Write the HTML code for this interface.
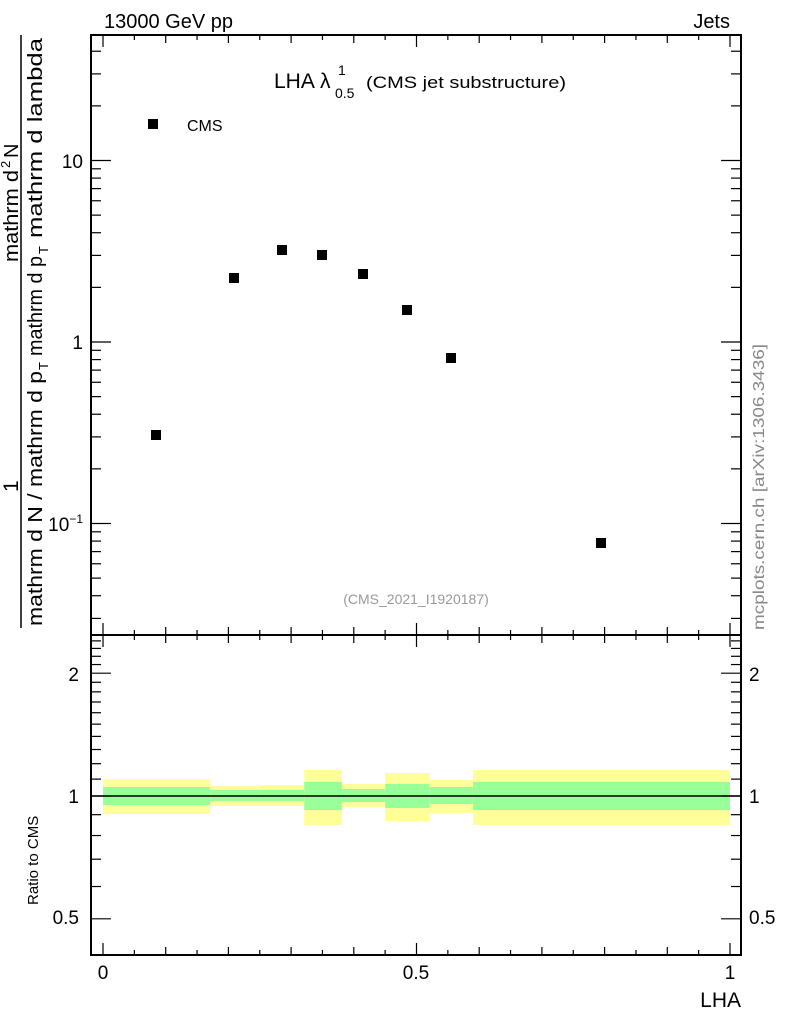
<!DOCTYPE html>
<html><head><meta charset="utf-8"><style>body{margin:0;background:#fff}svg{display:block}text{font-family:"Liberation Sans",sans-serif}</style></head>
<body>
<svg id="s" width="786" height="1024" viewBox="0 0 786 1024" xmlns="http://www.w3.org/2000/svg">
<g id="bands"></g>
<line x1="91" y1="796" x2="741" y2="796" stroke="#000" stroke-width="1.5"/>
<g id="ticks" stroke="#000" stroke-width="1.2"></g>
<rect x="91" y="35" width="650" height="600" fill="none" stroke="#000" stroke-width="2"/>
<rect x="91" y="635" width="650" height="320" fill="none" stroke="#000" stroke-width="2"/>
<g id="pts"></g>
<rect x="148" y="119" width="10" height="10" fill="#000"/>
<text x="187" y="131" font-size="16">CMS</text>
<text x="104" y="28" font-size="20">13000 GeV pp</text>
<text x="730" y="28" font-size="20" text-anchor="end">Jets</text>
<text x="274" y="88" font-size="21">LHA</text>
<text x="320" y="88" font-size="21">λ</text>
<text x="338" y="75" font-size="14">1</text>
<text x="335" y="98" font-size="14">0.5</text>
<text x="366" y="88" font-size="17" textLength="200" lengthAdjust="spacingAndGlyphs">(CMS jet substructure)</text>
<text x="416" y="604" font-size="14" fill="#999" text-anchor="middle">(CMS_2021_I1920187)</text>
<text transform="translate(764,630) rotate(-90)" font-size="16" fill="#888" textLength="286" lengthAdjust="spacingAndGlyphs">mcplots.cern.ch [arXiv:1306.3436]</text>
<text x="741" y="1007" font-size="21" text-anchor="end">LHA</text>
<text transform="translate(38,905) rotate(-90)" font-size="15">Ratio to CMS</text>
<g font-size="19" text-anchor="end">
<text x="83" y="168">10</text><text x="83" y="349">1</text>
<text x="83" y="531">10<tspan font-size="12" dy="-8">−1</tspan></text>
<text x="79" y="681">2</text><text x="79" y="803">1</text><text x="79" y="924">0.5</text>
</g>
<g font-size="19">
<text x="749" y="681">2</text><text x="749" y="803">1</text><text x="749" y="924">0.5</text>
</g>
<g font-size="19" text-anchor="middle">
<text x="103" y="979">0</text><text x="416" y="979">0.5</text><text x="730" y="979">1</text>
</g>
<line x1="21" y1="628" x2="21" y2="35" stroke="#000" stroke-width="1.5"/>
<text transform="translate(18,492) rotate(-90)" font-size="21">1</text>
<text transform="translate(42,626) rotate(-90)" font-size="20" textLength="255" lengthAdjust="spacingAndGlyphs">mathrm d N / mathrm d p</text>
<text transform="translate(48,370) rotate(-90)" font-size="13">T</text>
<text transform="translate(42,356) rotate(-90)" font-size="20" textLength="100" lengthAdjust="spacingAndGlyphs">mathrm d p</text>
<text transform="translate(48,254) rotate(-90)" font-size="13">T</text>
<text transform="translate(42,238) rotate(-90)" font-size="20" textLength="200" lengthAdjust="spacingAndGlyphs">mathrm d lambda</text>
<text transform="translate(18,262) rotate(-90)" font-size="20" textLength="92" lengthAdjust="spacingAndGlyphs">mathrm d</text>
<text transform="translate(10,168) rotate(-90)" font-size="13">2</text>
<text transform="translate(18,158) rotate(-90)" font-size="20">N</text>
</svg>
<script>
var NS="http://www.w3.org/2000/svg";
function el(p,t,a){var e=document.createElementNS(NS,t);for(var k in a)e.setAttribute(k,a[k]);document.getElementById(p).appendChild(e);}
function X(v){return 103+v*627;}
var b=[[0,.171,779,814,787,805],[.171,.249,786,806,790,801],[.249,.321,785,806,790,801],[.321,.381,770,825,782,810],[.381,.45,784,807,789,802],[.45,.521,773,821,784,808],[.521,.59,780,813,787,804],[.59,1,770,825,782,810]];
b.forEach(function(r){el("bands","rect",{x:X(r[0]),y:r[2],width:X(r[1])-X(r[0]),height:r[3]-r[2],fill:"#ffff99"});
el("bands","rect",{x:X(r[0]),y:r[4],width:X(r[1])-X(r[0]),height:r[5]-r[4],fill:"#99ff99"});});
var p=[[156,435],[234,278],[282,250],[322,255],[363,274],[407,310],[451,358],[601,543]];
p.forEach(function(q){el("pts","rect",{x:q[0]-5,y:q[1]-5,width:10,height:10,fill:"#000"});});
function L(x1,y1,x2,y2){el("ticks","line",{x1:x1,y1:y1,x2:x2,y2:y2});}
for(var i=0;i<=20;i++){var x=X(i*0.05),len=(i%10==0)?12:(i%2==0?8:5);
L(x,35,x,35+len);L(x,635,x,635-len);L(x,635,x,635+len);L(x,955,x,955-len);}
function Ym(v){return 342-Math.log10(v)*181.5;}
for(var d=-2;d<=1;d++)for(var m=1;m<10;m++){var v=m*Math.pow(10,d),y=Ym(v);if(y<35||y>635)continue;var len=m==1?20:10;L(91,y,91+len,y);L(741,y,741-len,y);}
function Yr(v){return 796-Math.log10(v)*408;}
for(var k=5;k<=24;k++){var v=k/10,y=Yr(v);if(y<636||y>954)continue;var len=(k==5||k==10||k==20)?20:10;L(91,y,91+len,y);L(741,y,741-len,y);}
</script>
</body></html>
